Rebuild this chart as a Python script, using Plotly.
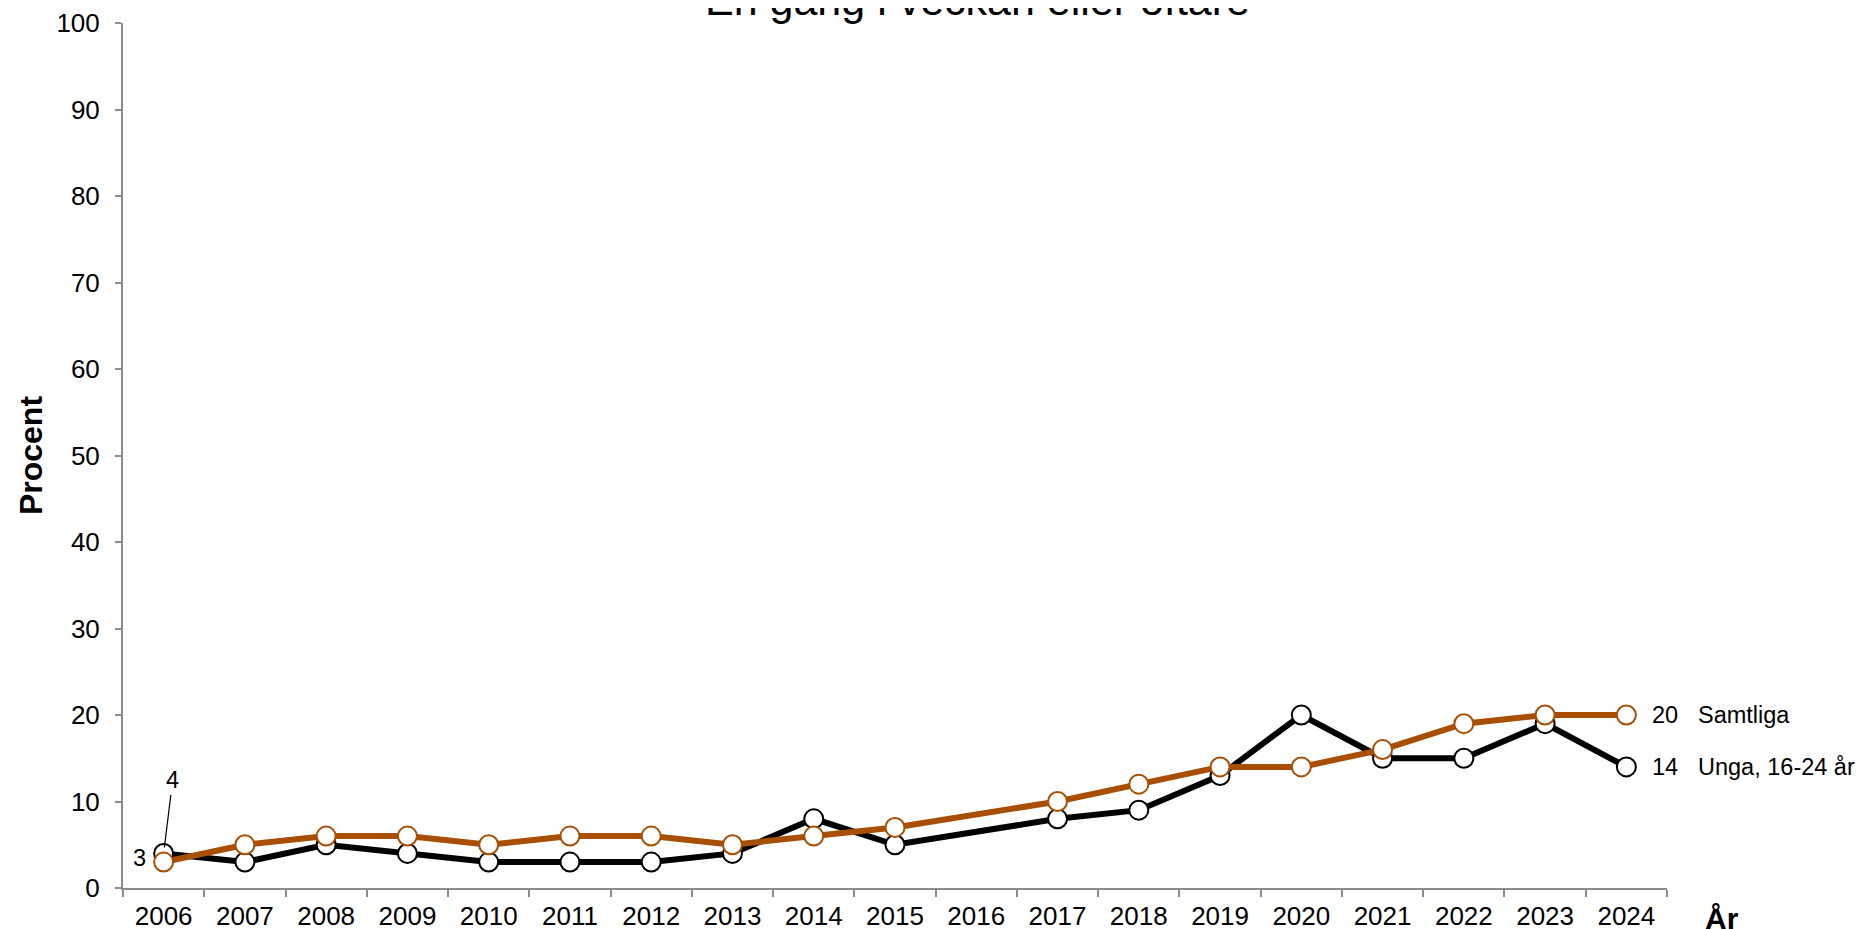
import plotly.graph_objects as go

years = ["2006", "2007", "2008", "2009", "2010", "2011", "2012", "2013", "2014",
         "2015", "2016", "2017", "2018", "2019", "2020", "2021", "2022", "2023", "2024"]
unga = [4, 3, 5, 4, 3, 3, 3, 4, 8, 5, None, 8, 9, 13, 20, 15, 15, 19, 14]
samtliga = [3, 5, 6, 6, 5, 6, 6, 5, 6, 7, None, 10, 12, 14, 14, 16, 19, 20, 20]
y_ticks = [0, 10, 20, 30, 40, 50, 60, 70, 80, 90, 100]

title_text = "En gång i veckan eller oftare"
name_unga = "Unga, 16-24 år"
name_samtliga = "Samtliga"

FONT = "Liberation Sans, Arial, sans-serif"
ORANGE = "#A84F03"
AXIS = "#8C8C8C"

# page body has an 8px margin; figure size/margins compensate for it
W, H = 1855, 929
ML, MR, MT, MB = 115, 196, 15, 49

fig = go.Figure()
fig.add_trace(go.Scatter(
    x=years, y=unga, mode="lines+markers", connectgaps=True, name=name_unga,
    line=dict(color="black", width=6),
    marker=dict(size=19, color="white", line=dict(color="black", width=2)),
    cliponaxis=False, hoverinfo="skip"))
fig.add_trace(go.Scatter(
    x=years, y=samtliga, mode="lines+markers", connectgaps=True, name=name_samtliga,
    line=dict(color=ORANGE, width=6),
    marker=dict(size=19, color="white", line=dict(color=ORANGE, width=2)),
    cliponaxis=False, hoverinfo="skip"))

last = len(years) - 1
lab_font = dict(size=23.5, color="black", family=FONT)
plot_w = W - ML - MR
ann = []
# end labels
ann.append(dict(x=last, y=samtliga[-1], text=str(samtliga[-1]), showarrow=False,
                xanchor="left", xshift=24, font=lab_font))
ann.append(dict(x=last, y=samtliga[-1], text=name_samtliga, showarrow=False,
                xanchor="left", xshift=70, font=lab_font))
ann.append(dict(x=last, y=unga[-1], text=str(unga[-1]), showarrow=False,
                xanchor="left", xshift=24, font=lab_font))
ann.append(dict(x=last, y=unga[-1], text=name_unga, showarrow=False,
                xanchor="left", xshift=70, font=lab_font))
# start labels
ann.append(dict(x=0, y=samtliga[0], text=str(samtliga[0]), showarrow=False,
                xanchor="right", xshift=-16, yshift=4, font=lab_font))
ann.append(dict(x=0, y=unga[0], text=str(unga[0]), showarrow=True,
                arrowhead=0, arrowwidth=1.2, arrowcolor="black", standoff=6,
                ax=9, ay=-73, font=lab_font))
# title
ann.append(dict(x=(977 - 8 - ML) / plot_w, y=1.0, xref="paper", yref="paper", text=title_text,
                showarrow=False, xanchor="center", yanchor="bottom", yshift=-3,
                font=dict(size=43, color="black", family=FONT)))
# axis title År
ann.append(dict(x=1.0, y=0, xref="paper", yref="paper", text="<b>År</b>",
                showarrow=False, xanchor="center", yanchor="top", xshift=55, yshift=-12,
                font=dict(size=30, color="black", family=FONT)))

fig.update_layout(
    width=W, height=H,
    margin=dict(l=ML, r=MR, t=MT, b=MB),
    paper_bgcolor="white", plot_bgcolor="white",
    showlegend=False,
    font=dict(family=FONT, color="black", size=26),
    annotations=ann,
    xaxis=dict(type="category", categoryorder="array", categoryarray=years,
               range=[-0.5, len(years) - 0.5], automargin=False,
               tickson="boundaries", ticks="outside", ticklen=7, tickwidth=2,
               tickcolor=AXIS, showline=True, linecolor=AXIS, linewidth=2,
               showgrid=False, zeroline=False, ticklabelstandoff=4,
               tickfont=dict(size=26, color="black", family=FONT)),
    yaxis=dict(range=[0, 100], tickvals=y_ticks, ticks="outside", ticklen=6, tickwidth=2,
               automargin=False,
               tickcolor=AXIS, showline=True, linecolor=AXIS, linewidth=2,
               showgrid=False, zeroline=False, ticklabelstandoff=10,
               tickfont=dict(size=26, color="black", family=FONT),
               title=dict(text="<b>Procent</b>", font=dict(size=32, color="black", family=FONT),
                          standoff=4)),
)

fig.write_html("out.html")
